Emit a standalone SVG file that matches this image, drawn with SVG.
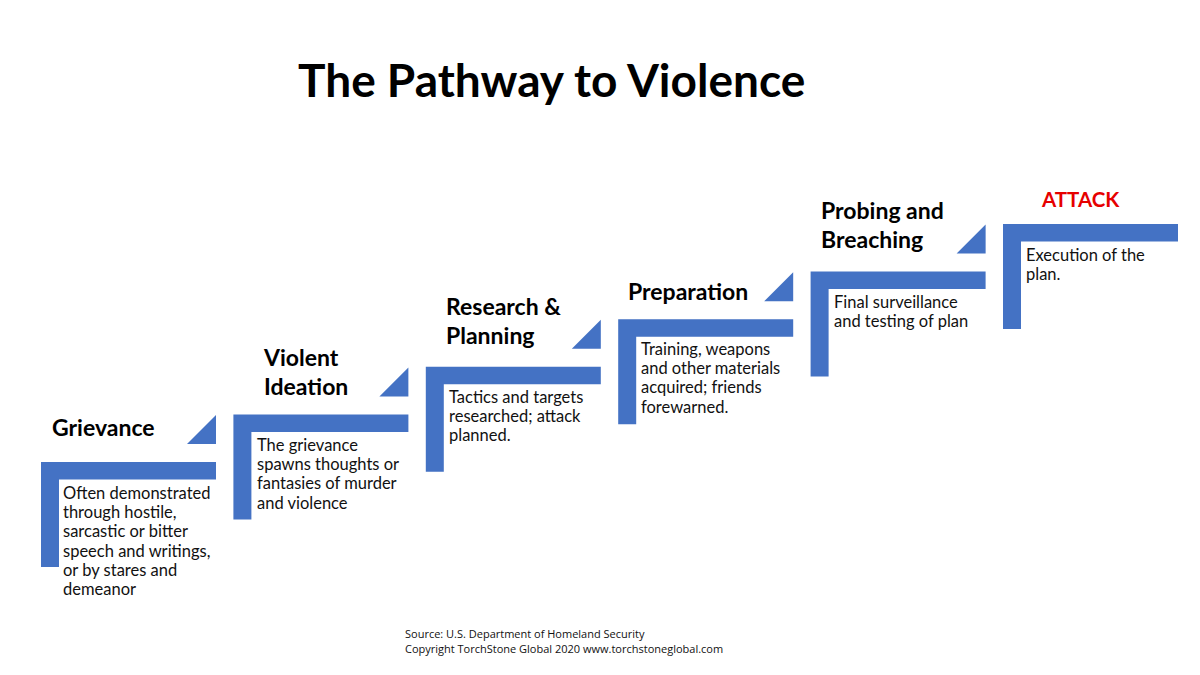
<svg xmlns="http://www.w3.org/2000/svg" width="1200" height="675" viewBox="0 0 1200 675">
<style>
.bar{fill:#4472C4}
.tri{fill:#4472C4}
.h{font-family:Lato,"Open Sans",sans-serif;font-weight:bold;font-size:23px;fill:#000}
.b{font-family:Lato,"Open Sans",sans-serif;font-size:16.5px;fill:#111}
.title{font-family:Lato,"Open Sans",sans-serif;font-weight:bold;font-size:46px;fill:#000}
.src{font-family:"Open Sans",Lato,sans-serif;font-size:11px;fill:#111}
</style>
<defs>
<path id="ell" d="M0 0 h175 v17.5 h-157 v87.5 h-18 z"/>
<path id="stepTri" d="M175 -47 L175 -18 L146 -18 z"/>
</defs>
<rect width="1200" height="675" fill="#fff"/>
<text id="title" class="title" x="298" y="97">The Pathway to Violence</text>

<g id="connectors">
<use href="#stepTri" class="tri" transform="translate(41,462)"/>
<use href="#stepTri" class="tri" transform="translate(233.4,414.4)"/>
<use href="#stepTri" class="tri" transform="translate(425.8,366.8)"/>
<use href="#stepTri" class="tri" transform="translate(618.2,319.2)"/>
<use href="#stepTri" class="tri" transform="translate(810.6,271.6)"/>
</g>

<g id="grievance">
<use href="#ell" class="bar" transform="translate(41,462)"/>
<text class="h" x="52" y="436">Grievance</text>
<text class="b" x="63" y="499">Often demonstrated<tspan x="63" dy="19.2">through hostile,</tspan><tspan x="63" dy="19.2">sarcastic or bitter</tspan><tspan x="63" dy="19.2">speech and writings,</tspan><tspan x="63" dy="19.2">or by stares and</tspan><tspan x="63" dy="19.2">demeanor</tspan></text>
</g>

<g id="violent-ideation">
<use href="#ell" class="bar" transform="translate(233.4,414.4)"/>
<text class="h" x="264" y="366">Violent<tspan x="264" dy="29">Ideation</tspan></text>
<text class="b" x="257" y="451">The grievance<tspan x="257" dy="19.2">spawns thoughts or</tspan><tspan x="257" dy="19.2">fantasies of murder</tspan><tspan x="257" dy="19.2">and violence</tspan></text>
</g>

<g id="research-planning">
<use href="#ell" class="bar" transform="translate(425.8,366.8)"/>
<text class="h" x="446" y="315">Research &amp;<tspan x="446" dy="29">Planning</tspan></text>
<text class="b" x="449" y="403">Tactics and targets<tspan x="449" dy="19.2">researched; attack</tspan><tspan x="449" dy="19.2">planned.</tspan></text>
</g>

<g id="preparation">
<use href="#ell" class="bar" transform="translate(618.2,319.2)"/>
<text class="h" x="628" y="300">Preparation</text>
<text class="b" x="641" y="355">Training, weapons<tspan x="641" dy="19.2">and other materials</tspan><tspan x="641" dy="19.2">acquired; friends</tspan><tspan x="641" dy="19.2">forewarned.</tspan></text>
</g>

<g id="probing-breaching">
<use href="#ell" class="bar" transform="translate(810.6,271.6)"/>
<text class="h" x="821" y="219">Probing and<tspan x="821" dy="29">Breaching</tspan></text>
<text class="b" x="834" y="308">Final surveillance<tspan x="834" dy="19.2">and testing of plan</tspan></text>
</g>

<g id="attack">
<use href="#ell" class="bar" transform="translate(1003,224)"/>
<text class="h" x="1042" y="207" style="fill:#E60000;font-size:20.5px">ATTACK</text>
<text class="b" x="1026" y="261">Execution of the<tspan x="1026" dy="19.2">plan.</tspan></text>
</g>

<g id="footer">
<text class="src" x="405" y="638">Source: U.S. Department  of Homeland Security</text>
<text class="src" x="405" y="653">Copyright TorchStone  Global 2020 www.torchstoneglobal.com</text>
</g>
</svg>
